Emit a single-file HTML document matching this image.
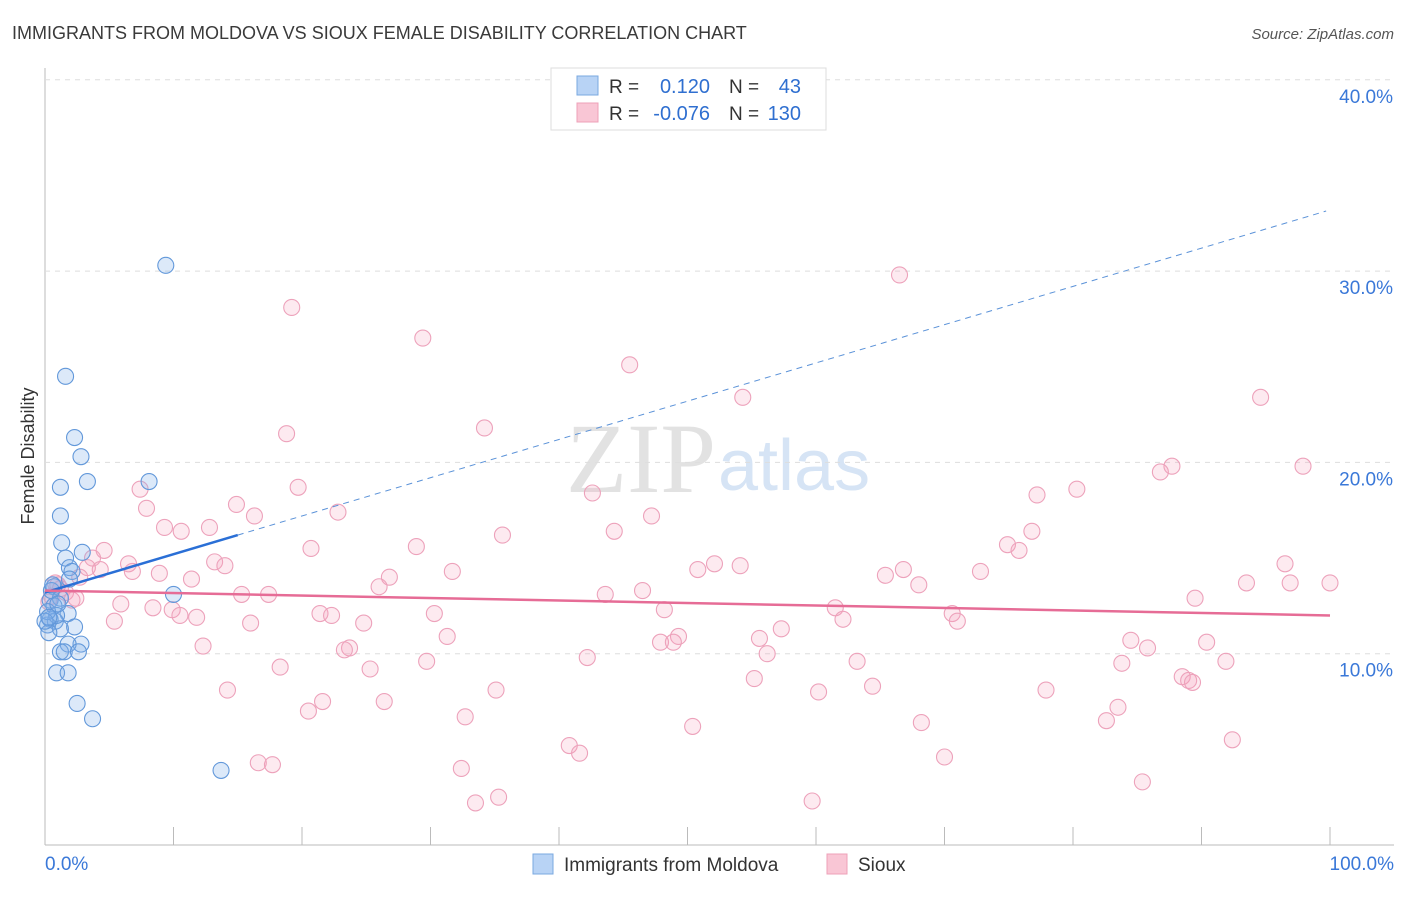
<!DOCTYPE html>
<html><head><meta charset="utf-8"><style>
body{margin:0;background:#fff;font-family:"Liberation Sans",sans-serif;}
svg text{font-family:"Liberation Sans",sans-serif;}
</style></head><body>
<svg id="chart" width="1406" height="892" xmlns="http://www.w3.org/2000/svg">
<text x="12" y="39" font-size="18" fill="#3a3a3a">IMMIGRANTS FROM MOLDOVA VS SIOUX FEMALE DISABILITY CORRELATION CHART</text>
<text x="1394" y="39" font-size="15" fill="#555" font-style="italic" text-anchor="end">Source: ZipAtlas.com</text>
<text x="716" y="492" font-size="100" fill="#e2e2e2" text-anchor="end" font-family="Liberation Serif" style="font-family:'Liberation Serif',serif">ZIP</text>
<text x="718" y="490" font-size="72" fill="#d6e4f5">atlas</text>
<text transform="translate(34,456) rotate(-90)" font-size="18" fill="#333" text-anchor="middle">Female Disability</text>
<g id="grid"></g><g id="pink"></g><g id="blue"></g><g id="trends"></g>
<g>
<rect x="551" y="68" width="275" height="62" fill="#fff" stroke="#ddd"/>
<rect x="577" y="76" width="21" height="19" fill="#b8d3f5" stroke="#7aa8e0"/>
<rect x="577" y="103" width="21" height="19" fill="#f9c6d5" stroke="#eea0b8"/>
<text x="609" y="93" font-size="19" fill="#333">R =</text>
<text x="710" y="93" font-size="20" fill="#2f6fd0" text-anchor="end">0.120</text>
<text x="729" y="93" font-size="19" fill="#333">N =</text>
<text x="801" y="93" font-size="20" fill="#2f6fd0" text-anchor="end">43</text>
<text x="609" y="120" font-size="19" fill="#333">R =</text>
<text x="710" y="120" font-size="20" fill="#2f6fd0" text-anchor="end">-0.076</text>
<text x="729" y="120" font-size="19" fill="#333">N =</text>
<text x="801" y="120" font-size="20" fill="#2f6fd0" text-anchor="end">130</text>
</g>
<g>
<rect x="533" y="854" width="20" height="20" fill="#b8d3f5" stroke="#7aa8e0"/>
<text x="564" y="871" font-size="19" fill="#333">Immigrants from Moldova</text>
<rect x="827" y="854" width="20" height="20" fill="#f9c6d5" stroke="#eea0b8"/>
<text x="858" y="871" font-size="19" fill="#333">Sioux</text>
</g>
</svg>
<script>
const yTicks=[10,20,30,40];
const yTickLabels=["10.0%","20.0%","30.0%","40.0%"];
const xTickLabels=["0.0%","100.0%"];
const blueX=[9.4,1.6,2.3,2.8,1.2,3.3,8.1,1.2,1.3,2.9,1.6,1.9,2.1,1.9,0.7,10.0,0.4,1.2,0.7,1.8,0.4,0.8,0.2,2.3,1.2,0.3,2.8,1.8,1.2,1.5,2.6,0.9,1.8,2.5,3.7,13.7,0.9,0.2,0.5,0,0.6,1.0,0.3];
const blueY=[30.3,24.5,21.3,20.3,18.7,19.0,19.0,17.2,15.8,15.3,15.0,14.5,14.3,13.9,13.5,13.1,12.8,12.9,12.5,12.1,11.8,11.7,11.5,11.4,11.3,11.1,10.5,10.5,10.1,10.1,10.1,9.0,9.0,7.4,6.6,3.9,12.0,12.2,13.3,11.7,13.6,12.6,11.9];
const pinkX=[66.5,19.2,29.4,45.5,54.3,94.6,34.2,18.8,87.7,86.8,97.9,80.3,77.2,19.7,7.4,42.6,14.9,7.9,22.8,47.2,16.3,12.8,9.3,10.6,44.3,76.8,35.6,28.9,74.9,75.8,20.7,4.6,3.7,13.2,6.5,14.0,52.1,54.1,50.8,66.8,31.7,3.3,4.3,6.8,8.9,72.8,96.5,65.4,26.8,11.4,2.7,96.9,100,93.5,68.0,26,46.5,0.8,1.6,2.1,15.3,17.4,43.6,89.5,5.9,8.4,9.9,48.2,61.5,70.6,21.4,22.3,30.3,10.5,11.8,62.1,71,5.4,16,24.8,57.3,49.3,31.3,55.6,84.5,90.4,47.9,48.9,12.3,23.7,23.3,56.2,85.8,42.2,83.8,91.9,63.2,29.7,25.3,18.3,88.5,89,89.3,55.2,64.4,35.1,14.2,77.9,60.2,26.4,21.6,20.5,83.5,32.7,82.6,68.2,50.4,92.4,40.8,41.6,70,16.6,17.7,32.4,85.4,33.5,35.3,59.7,1.2,0.5,2.4,1.0,0.3];
const pinkY=[29.8,28.1,26.5,25.1,23.4,23.4,21.8,21.5,19.8,19.5,19.8,18.6,18.3,18.7,18.6,18.4,17.8,17.6,17.4,17.2,17.2,16.6,16.6,16.4,16.4,16.4,16.2,15.6,15.7,15.4,15.5,15.4,15.0,14.8,14.7,14.6,14.7,14.6,14.4,14.4,14.3,14.5,14.4,14.3,14.2,14.3,14.7,14.1,14.0,13.9,14.0,13.7,13.7,13.7,13.6,13.5,13.3,13.7,13.2,12.8,13.1,13.1,13.1,12.9,12.6,12.4,12.3,12.3,12.4,12.1,12.1,12.0,12.1,12.0,11.9,11.8,11.7,11.7,11.6,11.6,11.3,10.9,10.9,10.8,10.7,10.6,10.6,10.6,10.4,10.3,10.2,10.0,10.3,9.8,9.5,9.6,9.6,9.6,9.2,9.3,8.8,8.6,8.5,8.7,8.3,8.1,8.1,8.1,8.0,7.5,7.5,7.0,7.2,6.7,6.5,6.4,6.2,5.5,5.2,4.8,4.6,4.3,4.2,4.0,3.3,2.2,2.5,2.3,13.4,13.0,12.9,13.6,12.7];
const blueTrend=[13.2,0.2];   // intercept, slope
const pinkTrend=[13.3,-0.013];
const X=v=>45+v*12.85, Y=v=>845-v*19.13;
const NS="http://www.w3.org/2000/svg";
function mk(tag,attrs,parent){const e=document.createElementNS(NS,tag);for(const k in attrs)e.setAttribute(k,attrs[k]);document.getElementById(parent).appendChild(e);return e;}
let e;
e=mk('line',{x1:45,y1:68,x2:45,y2:845,stroke:'#bbb'},'grid');


e=mk('line',{x1:45,y1:845,x2:1394,y2:845,stroke:'#bbb'},'grid');


yTicks.forEach((t,i)=>{
 e=mk('line',{x1:45,y1:Y(t),x2:1394,y2:Y(t),stroke:'#ddd','stroke-dasharray':'5,5'},'grid');
 
 
 e=mk('text',{x:1393,y:Y(t)+23,'font-size':19,fill:'#3a78d8','text-anchor':'end'},'grid');
 e.textContent=yTickLabels[i];
 
 
});
for(let k=1;k<=10;k++){
 e=mk('line',{x1:X(k*10),y1:827,x2:X(k*10),y2:845,stroke:'#bbb'},'grid');
 
 
}
e=mk('text',{x:45,y:870,'font-size':19,fill:'#3a78d8'},'grid');e.textContent=xTickLabels[0];


e=mk('text',{x:1394,y:870,'font-size':19,fill:'#3a78d8','text-anchor':'end'},'grid');e.textContent=xTickLabels[1];


pinkX.forEach((x,i)=>{
 e=mk('circle',{cx:X(x),cy:Y(pinkY[i]),r:8,fill:'rgba(244,160,188,0.22)',stroke:'#eda2bb','stroke-width':1.1},'pink');
 
 
});
blueX.forEach((x,i)=>{
 e=mk('circle',{cx:X(x),cy:Y(blueY[i]),r:8,fill:'rgba(130,175,232,0.28)',stroke:'#6298da','stroke-width':1.1},'blue');
 
 
});
const bt=v=>blueTrend[0]+blueTrend[1]*v, pt=v=>pinkTrend[0]+pinkTrend[1]*v;
e=mk('line',{x1:X(15),y1:Y(bt(15)),x2:X(99.7),y2:Y(bt(99.7)),stroke:'#5b92d8','stroke-width':1,'stroke-dasharray':'6,5'},'trends');


e=mk('line',{x1:X(0),y1:Y(bt(0)),x2:X(15),y2:Y(bt(15)),stroke:'#2a6fd6','stroke-width':2.5},'trends');


e=mk('line',{x1:X(0),y1:Y(pt(0)),x2:X(100),y2:Y(pt(100)),stroke:'#e66c96','stroke-width':2.5},'trends');


</script>
</body></html>
